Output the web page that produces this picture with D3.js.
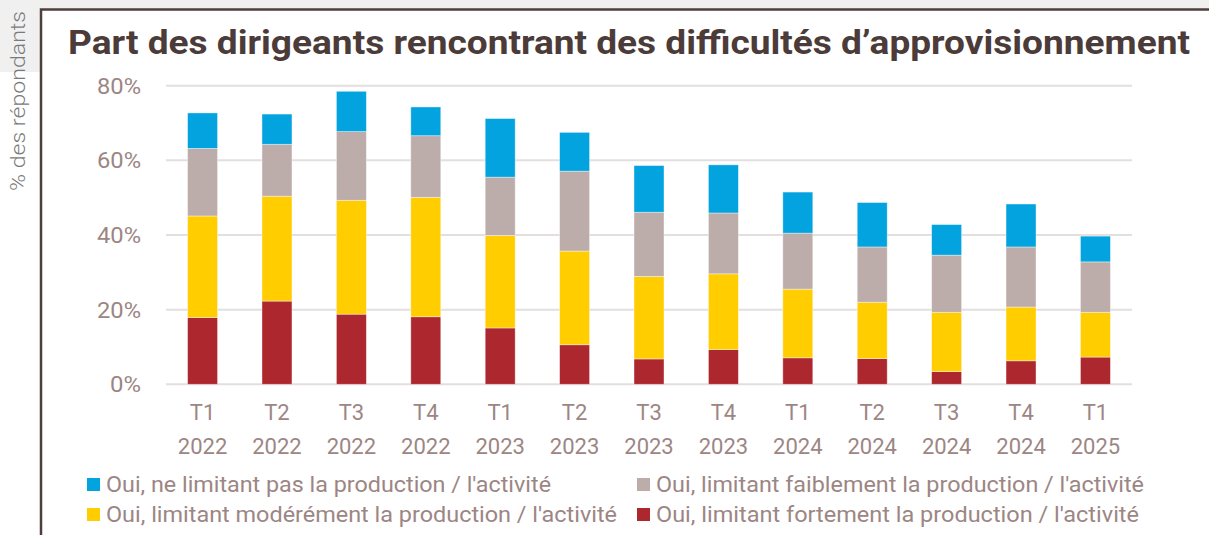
<!DOCTYPE html>
<html><head><meta charset="utf-8">
<script src="https://cdn.jsdelivr.net/npm/d3@7"></script>
<style>html,body{margin:0;padding:0;background:#fff;}svg{display:block;font-family:Roboto,"Noto Sans",sans-serif;}</style>
</head><body><svg id="c" width="1209" height="535"></svg>
<script>
const quarters = ["T1","T2","T3","T4","T1","T2","T3","T4","T1","T2","T3","T4","T1"];
const years = ["2022","2022","2022","2022","2023","2023","2023","2023","2024","2024","2024","2024","2025"];
const fortement = [17.9,22.3,18.8,18.1,15.1,10.6,6.8,9.3,7.1,6.9,3.4,6.3,7.3];
const moderement = [27.2,28.1,30.5,32.0,24.8,25.1,22.1,20.3,18.4,15.1,15.9,14.4,12.0];
const faiblement = [18.1,13.9,18.4,16.5,15.6,21.4,17.2,16.3,15.0,14.8,15.3,16.1,13.5];
const pasLimitant = [9.5,8.1,10.8,7.7,15.7,10.4,12.5,12.9,11.0,11.9,8.2,11.5,6.9];
const yTicks = [0,20,40,60,80];
const seriesNames = ["Oui, limitant fortement la production / l'activité","Oui, limitant modérément la production / l'activité","Oui, limitant faiblement la production / l'activité","Oui, ne limitant pas la production / l'activité"];
const seriesColors = ["#ad272e","#ffcd00","#bcacaa","#02a3df"];
const title = "Part des dirigeants rencontrant des difficultés d\u2019approvisionnement";
const yTitle = "% des répondants";

const svg = d3.select("#c");
svg.append("rect").attr("x",0).attr("y",0).attr("width",1209).attr("height",9).attr("fill","#f0f0f0");
svg.append("rect").attr("x",0).attr("y",0).attr("width",40).attr("height",72).attr("fill","#f0f0f0");
svg.append("path").attr("d","M41,535V9.5H1209").attr("fill","none").attr("stroke","#4d3f3d").attr("stroke-width",2.5);

const labels = quarters.map((q,i)=>q+" "+years[i]+"#"+i);
const x = d3.scaleBand().domain(labels).range([166,1132]).paddingInner(0.597).paddingOuter(0.29);
const y = d3.scaleLinear().domain([0,80]).range([384.3,85.7]);

svg.append("g").selectAll("line").data(yTicks).join("line")
  .attr("x1",166).attr("x2",1132).attr("y1",d=>y(d)).attr("y2",d=>y(d))
  .attr("stroke","#e4dfdf").attr("stroke-width",2);

svg.append("g").selectAll("text").data(yTicks).join("text")
  .attr("x",141).attr("y",d=>y(d)).attr("dy","0.36em").attr("text-anchor","end")
  .attr("font-size",22).attr("fill","#9c8684")
  .attr("textLength",d=>d===0?31:44).attr("lengthAdjust","spacingAndGlyphs")
  .text(d=>d+"%");

const rows = labels.map((l,i)=>({key:l,f:fortement[i],m:moderement[i],a:faiblement[i],p:pasLimitant[i]}));
const stack = d3.stack().keys(["f","m","a","p"])(rows);
svg.append("g").selectAll("g").data(stack).join("g").attr("fill",(d,i)=>seriesColors[i])
  .selectAll("rect").data(d=>d).join("rect")
  .attr("x",d=>x(d.data.key)).attr("width",x.bandwidth())
  .attr("y",d=>y(d[1])).attr("height",d=>y(d[0])-y(d[1]))
  .attr("stroke","#ffffff").attr("stroke-opacity",0.5).attr("stroke-width",0.8);

const xl = svg.append("g").selectAll("text").data(labels).join("text")
  .attr("text-anchor","middle").attr("font-size",22).attr("fill","#9c8684")
  .attr("transform",d=>`translate(${x(d)+x.bandwidth()/2},0)`);
xl.append("tspan").attr("x",0).attr("y",420).text((d,i)=>quarters[i]);
xl.append("tspan").attr("x",0).attr("y",454).text((d,i)=>years[i]);

svg.append("text").attr("x",68).attr("y",54).attr("font-size",33).attr("font-weight",700)
  .attr("fill","#4b3b39").attr("textLength",1122).attr("lengthAdjust","spacingAndGlyphs").text(title);

svg.append("text").attr("transform","translate(25,101) rotate(-90)").attr("text-anchor","middle")
  .attr("font-size",21).attr("fill","#7a7a7a").attr("font-weight",300)
  .attr("textLength",180).attr("lengthAdjust","spacingAndGlyphs").text(yTitle);

const legendItems = [
  {s:3,x:87,y:478,w:445},
  {s:2,x:637,y:478,w:488},
  {s:1,x:87,y:508,w:511},
  {s:0,x:637,y:508,w:483}
];
const lg = svg.append("g").selectAll("g").data(legendItems).join("g");
lg.append("rect").attr("x",d=>d.x).attr("y",d=>d.y).attr("width",13).attr("height",13).attr("fill",d=>seriesColors[d.s]);
lg.append("text").attr("x",d=>d.x+19).attr("y",d=>d.y+14).attr("font-size",22.5).attr("fill","#9c8684")
  .attr("textLength",d=>d.w).attr("lengthAdjust","spacingAndGlyphs").text(d=>seriesNames[d.s]);
</script></body></html>
